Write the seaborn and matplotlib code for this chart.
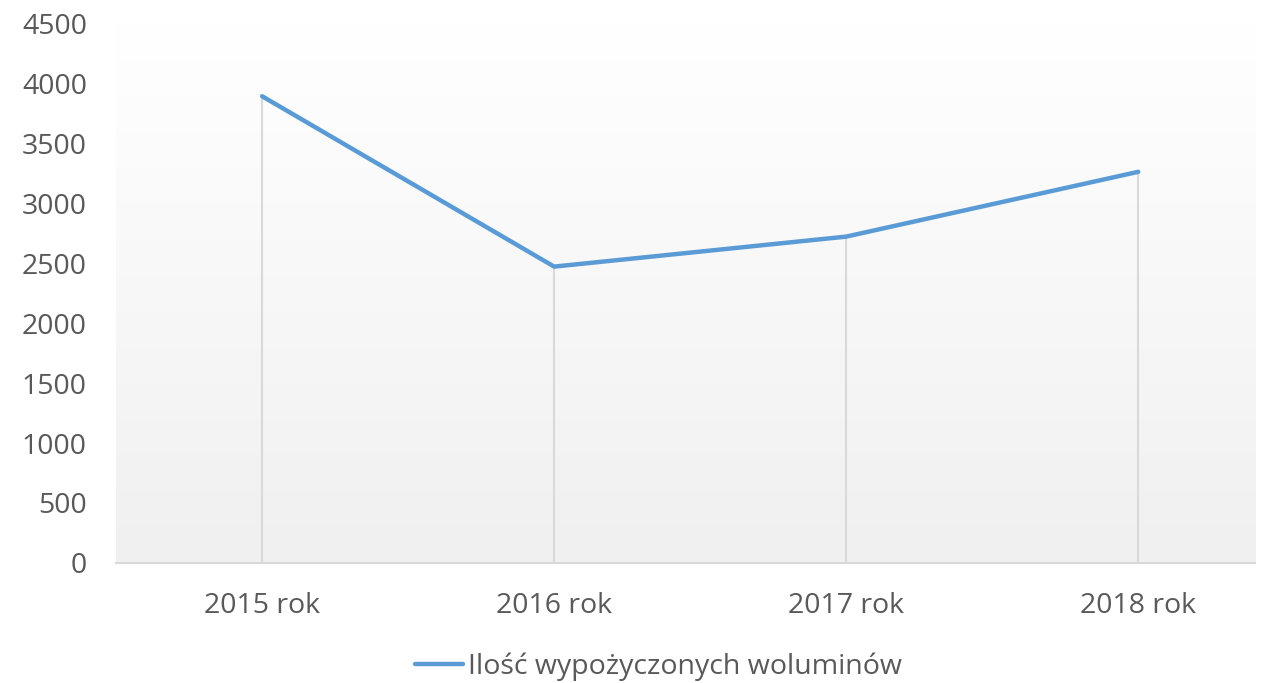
import numpy as np
import pandas as pd
import seaborn as sns
import matplotlib
matplotlib.use("Agg")
import matplotlib.pyplot as plt
from matplotlib.colors import LinearSegmentedColormap

# data
years = ["2015 rok", "2016 rok", "2017 rok", "2018 rok"]
volumes = [3890, 2470, 2720, 3260]
series_name = "Ilość wypożyczonych woluminów"

df = pd.DataFrame({"rok": years, "value": volumes, "seria": series_name})
df["pos"] = range(len(df))

sns.set_theme(style="white")
plt.rcParams["font.family"] = ["Open Sans", "DejaVu Sans"]

fig = plt.figure(figsize=(12.71, 6.83), dpi=100)
ax = fig.add_axes([0.0913, 0.1757, 0.8962, 0.7906])

# gradient background (white top -> light grey bottom)
grad = np.linspace(0, 1, 256).reshape(-1, 1)
cmap = LinearSegmentedColormap.from_list("bg", ["#ffffff", "#f0f0f0"])
ax.imshow(grad, extent=[0, 1, 0, 1], transform=ax.transAxes, aspect="auto",
          cmap=cmap, zorder=0, origin="upper")

# drop lines
ax.vlines(df["pos"], 0, df["value"], color="#d9d9d9", lw=1.5, zorder=1)

sns.lineplot(data=df, x="pos", y="value", hue="seria", palette=["#5b9bd5"],
             lw=3.2, ax=ax, zorder=3, solid_capstyle="round")

ax.set_xlim(-0.5, 3.4)
ax.set_ylim(0, 4500)
ax.set_yticks(range(0, 4501, 500))
ax.set_xticks(df["pos"])
ax.set_xticklabels(years)
ax.tick_params(axis="both", length=0, labelsize=20.5, labelcolor="#595959")
ax.tick_params(axis="y", pad=21)
ax.tick_params(axis="x", pad=21)
ax.set_xlabel("")
ax.set_ylabel("")
for s in ["top", "left", "right"]:
    ax.spines[s].set_visible(False)
ax.spines["bottom"].set_color("#d9d9d9")
ax.spines["bottom"].set_linewidth(1.5)
ax.set_facecolor("white")

leg = ax.legend(loc="center", bbox_to_anchor=(0.476, -0.192), frameon=False,
                fontsize=20.5, handlelength=1.7, handletextpad=0.15)
for t in leg.get_texts():
    t.set_color("#595959")
for h in leg.get_lines():
    h.set_linewidth(3.2)

fig.savefig("out.png", dpi=100)
